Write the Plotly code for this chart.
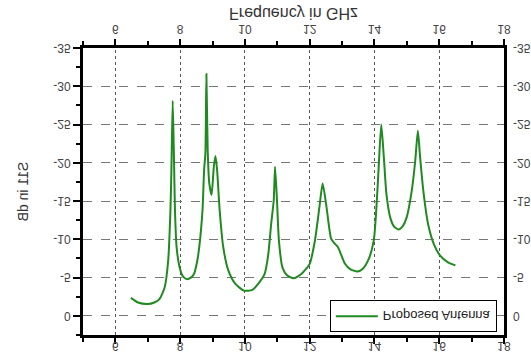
import plotly.graph_objects as go

# Measured reflection coefficient of the proposed antenna
freq_ghz = [6.48, 6.7, 7.0, 7.2, 7.36, 7.52, 7.63, 7.70, 7.73, 7.77, 7.81, 7.84, 7.89,
            7.98, 8.08, 8.21, 8.33, 8.43, 8.52, 8.59, 8.69, 8.74, 8.78, 8.81, 8.85,
            8.90, 8.97, 9.04, 9.09, 9.14, 9.22, 9.33, 9.49, 9.70, 9.97, 10.23, 10.45,
            10.61, 10.72, 10.81, 10.89, 10.93, 10.99, 11.05, 11.16, 11.30, 11.50, 11.75,
            12.00, 12.16, 12.30, 12.40, 12.52, 12.66, 12.76, 12.87, 12.97, 13.09, 13.25,
            13.47, 13.65, 13.83, 13.98, 14.06, 14.13, 14.21, 14.29, 14.37, 14.49, 14.60,
            14.74, 14.87, 14.99, 15.15, 15.26, 15.34, 15.41, 15.51, 15.66, 15.84, 16.02,
            16.27, 16.50]
s11_db = [-2.35, -1.75, -1.55, -1.75, -2.2, -3.7, -7.2, -13.8, -19.1, -28.1, -20.4,
          -13.8, -9.0, -6.4, -5.2, -4.8, -5.0, -5.5, -7.0, -9.0, -13.8, -19.1, -21.3,
          -31.6, -21.7, -17.3, -15.8, -19.5, -20.9, -19.1, -13.8, -9.0, -5.9, -4.2,
          -3.3, -3.4, -4.4, -5.5, -8.0, -12.0, -15.1, -19.5, -15.1, -9.8, -6.3, -5.3,
          -4.9, -5.5, -6.8, -9.8, -14.2, -17.3, -14.2, -10.1, -9.5, -9.0, -8.0, -6.8,
          -6.1, -5.8, -6.2, -7.5, -9.9, -14.1, -19.4, -25.0, -20.7, -15.9, -12.8, -11.7,
          -11.3, -11.7, -12.8, -16.3, -20.3, -24.2, -20.7, -16.3, -11.9, -9.3, -7.9,
          -7.0, -6.6]

x_ticks = [6, 8, 10, 12, 14, 16, 18]
y_ticks = [0, -5, -10, -15, -20, -25, -30, -35]

GREEN = "#1f8a1f"
LABEL_FONT = dict(family="Liberation Sans, Arial, sans-serif", size=12, color="#444444")

fig = go.Figure()
fig.add_trace(go.Scatter(
    x=freq_ghz, y=s11_db, mode="lines", name="Proposed Antenna",
    line=dict(color=GREEN, width=2, shape="spline", smoothing=0.6),
))
# companion trace so the top and right label axes are drawn
fig.add_trace(go.Scatter(
    x=freq_ghz, y=s11_db, mode="lines", xaxis="x2", yaxis="y2",
    line=dict(color="rgba(0,0,0,0)", width=0), showlegend=False, hoverinfo="skip",
))

fig.update_layout(
    width=531, height=358,
    margin=dict(l=83, r=27, t=23, b=48, autoexpand=False),
    paper_bgcolor="white", plot_bgcolor="white",
    font=LABEL_FONT,
    xaxis=dict(
        range=[5, 18], tickvals=x_ticks, ticktext=[str(v) for v in x_ticks],
        automargin=True,
        showline=True, linecolor="black", linewidth=3, mirror="allticks",
        ticks="outside", ticklen=6, tickwidth=2, tickcolor="black",
        minor=dict(dtick=1, tick0=5, ticks="outside", ticklen=4, tickwidth=2,
                   tickcolor="black", showgrid=False),
        showgrid=True, gridcolor="#555555", griddash="dot", gridwidth=1,
        zeroline=False,
        title=dict(text="Frequency in GHz", standoff=4,
                   font=dict(size=16, color="#333333")),
    ),
    xaxis2=dict(
        range=[5, 18], tickvals=x_ticks, ticktext=[str(v) for v in x_ticks],
        automargin=False,
        overlaying="x", side="top", showline=False, showgrid=False, zeroline=False,
        ticks="", ticklabelstandoff=4,
    ),
    yaxis=dict(
        range=[-35, 2.5], tickvals=y_ticks, ticktext=[str(v) for v in y_ticks],
        automargin=False,
        showline=True, linecolor="black", linewidth=3, mirror=True,
        ticks="outside", ticklen=7, tickwidth=2, tickcolor="black",
        minor=dict(dtick=2.5, tick0=0, ticks="outside", ticklen=4, tickwidth=2,
                   tickcolor="black", showgrid=False),
        showgrid=True, gridcolor="#777777", griddash="dash", gridwidth=1,
        zeroline=False,
        title=dict(text="S11 in dB", standoff=22,
                   font=dict(size=14, color="#333333")),
    ),
    yaxis2=dict(
        range=[-35, 2.5], tickvals=y_ticks, ticktext=[str(v) for v in y_ticks],
        automargin=False,
        overlaying="y", side="right", showline=False, showgrid=False, zeroline=False,
        ticks="", ticklabelstandoff=8,
    ),
    legend=dict(
        x=0.983, y=0.99, xanchor="right", yanchor="top",
        bgcolor="white", bordercolor="black", borderwidth=1,
        font=dict(size=13, color="#222222"), itemwidth=42,
        tracegroupgap=0,
    ),
    showlegend=True,
)

# the page shows the chart mirrored top-to-bottom
fig.write_html(
    "out.html",
    post_script="document.getElementById('{plot_id}').style.transform='scaleY(-1)';",
)
